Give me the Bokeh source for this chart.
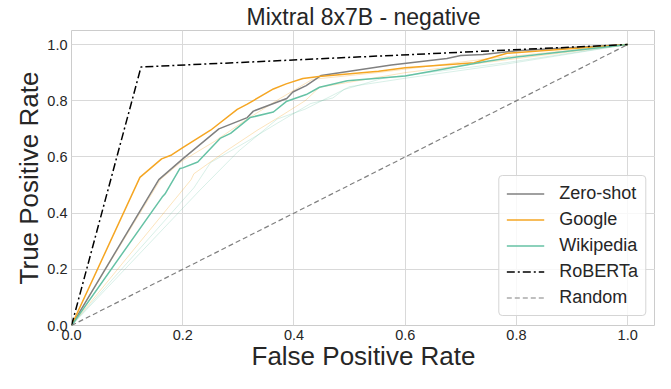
from bokeh.plotting import figure
from bokeh.models import Range1d, Legend, LegendItem, FixedTicker, NumeralTickFormatter
from bokeh.embed import file_html
from bokeh.resources import INLINE

# ---- data ----
zs_fpr = [0, 0.157, 0.2, 0.265, 0.316, 0.327, 0.387, 0.398, 0.422, 0.449, 0.575, 0.675, 0.70, 0.74, 0.80, 1.0]
zs_tpr = [0, 0.519, 0.593, 0.70, 0.74, 0.763, 0.808, 0.831, 0.854, 0.89, 0.927, 0.95, 0.961, 0.965, 0.978, 1.0]

go_fpr = [0, 0.123, 0.162, 0.18, 0.2, 0.25, 0.298, 0.316, 0.363, 0.386, 0.416, 0.445, 0.552, 0.60, 0.724, 0.783, 1.0]
go_tpr = [0, 0.527, 0.593, 0.607, 0.633, 0.695, 0.769, 0.788, 0.842, 0.86, 0.879, 0.886, 0.905, 0.917, 0.935, 0.969, 1.0]

wk_fpr = [0, 0.163, 0.168, 0.195, 0.2, 0.227, 0.268, 0.286, 0.321, 0.363, 0.386, 0.422, 0.446, 0.496, 0.60, 0.742, 0.80, 1.0]
wk_tpr = [0, 0.457, 0.468, 0.559, 0.561, 0.582, 0.667, 0.684, 0.74, 0.76, 0.797, 0.822, 0.848, 0.871, 0.888, 0.939, 0.956, 1.0]

go_faint1_fpr = [0, 0.16, 0.2, 0.257, 0.316, 0.375, 0.433, 0.55, 0.75, 1.0]
go_faint1_tpr = [0, 0.52, 0.587, 0.655, 0.735, 0.808, 0.876, 0.90, 0.95, 1.0]
go_faint2_fpr = [0, 0.215, 0.22, 0.274, 0.334, 0.38, 0.42, 0.446, 0.60, 0.80, 1.0]
go_faint2_tpr = [0, 0.519, 0.54, 0.616, 0.695, 0.75, 0.80, 0.848, 0.90, 0.95, 1.0]

wk_faint1_fpr = [0, 0.22, 0.25, 0.32, 0.37, 0.43, 0.47, 0.49, 0.56, 0.78, 1.0]
wk_faint1_tpr = [0, 0.49, 0.58, 0.66, 0.72, 0.79, 0.81, 0.84, 0.88, 0.935, 1.0]
wk_faint2_fpr = [0, 0.23, 0.30, 0.37, 0.42, 0.45, 0.50, 0.60, 0.78, 1.0]
wk_faint2_tpr = [0, 0.48, 0.62, 0.735, 0.77, 0.80, 0.85, 0.88, 0.93, 1.0]

rb_fpr = [0, 0.125, 1.0]
rb_tpr = [0, 0.92, 1.0]

rand_fpr = [0, 1.0]
rand_tpr = [0, 1.0]

ticks = [0.0, 0.2, 0.4, 0.6, 0.8, 1.0]
title_text = "Mixtral 8x7B - negative"
x_label = "False Positive Rate"
y_label = "True Positive Rate"

FONT = "Liberation Sans"
TXT = "#262626"

p = figure(width=655, height=373, output_backend="svg", toolbar_location=None,
           x_range=Range1d(0, 1.05), y_range=Range1d(0, 1.05),
           min_border_left=71, min_border_right=0, min_border_top=5, min_border_bottom=46)

p.title.text = title_text
p.title.align = "center"
p.title.text_font = FONT
p.title.text_font_size = "23px"
p.title.text_font_style = "normal"
p.title.text_color = TXT
p.title.standoff = 2

p.background_fill_color = "white"
p.border_fill_color = "white"
p.outline_line_color = "#cccccc"
p.outline_line_width = 1

for ax in (p.xaxis, p.yaxis):
    ax.ticker = FixedTicker(ticks=ticks)
    ax.formatter = NumeralTickFormatter(format="0.0")
    ax.axis_line_color = None
    ax.major_tick_line_color = None
    ax.minor_tick_line_color = None
    ax.major_tick_out = 0
    ax.major_tick_in = 0
    ax.minor_tick_out = 0
    ax.minor_tick_in = 0
    ax.major_label_text_font = FONT
    ax.major_label_text_font_size = "14.5px"
    ax.major_label_text_color = TXT
    ax.major_label_standoff = 4
    ax.axis_label_text_font = FONT
    ax.axis_label_text_font_size = "26px"
    ax.axis_label_text_font_style = "normal"
    ax.axis_label_text_color = TXT

p.xaxis.axis_label_standoff = -2
p.yaxis.axis_label_standoff = 0

p.xaxis.axis_label = x_label
p.yaxis.axis_label = y_label

p.xgrid.grid_line_color = "#d9d9d9"
p.ygrid.grid_line_color = "#d9d9d9"
p.xgrid.ticker = FixedTicker(ticks=ticks)
p.ygrid.ticker = FixedTicker(ticks=ticks)

ORANGE = "#f5a623"
GREEN = "#66c2a5"
GRAY = "#808080"

# faint variants
p.line(go_faint1_fpr, go_faint1_tpr, line_color=ORANGE, line_alpha=0.3, line_width=1)
p.line(go_faint2_fpr, go_faint2_tpr, line_color=ORANGE, line_alpha=0.3, line_width=1)
p.line(wk_faint1_fpr, wk_faint1_tpr, line_color=GREEN, line_alpha=0.25, line_width=1)
p.line(wk_faint2_fpr, wk_faint2_tpr, line_color=GREEN, line_alpha=0.25, line_width=1)

r_zs = p.line(zs_fpr, zs_tpr, line_color=GRAY, line_width=1.5)
r_go = p.line(go_fpr, go_tpr, line_color=ORANGE, line_width=1.5)
r_wk = p.line(wk_fpr, wk_tpr, line_color=GREEN, line_width=1.5)
r_rb = p.line(rb_fpr, rb_tpr, line_color="black", line_width=1.5, line_dash="8 3 2 3")
r_rand = p.line(rand_fpr, rand_tpr, line_color=GRAY, line_width=1.2, line_dash="5 3")

legend = Legend(items=[
    LegendItem(label="Zero-shot", renderers=[r_zs]),
    LegendItem(label="Google", renderers=[r_go]),
    LegendItem(label="Wikipedia", renderers=[r_wk]),
    LegendItem(label="RoBERTa", renderers=[r_rb]),
    LegendItem(label="Random", renderers=[r_rand]),
], location="bottom_right")
legend.label_text_font = FONT
legend.label_text_font_size = "18px"
legend.label_text_color = TXT
legend.glyph_width = 38
legend.glyph_height = 21
legend.label_height = 21
legend.spacing = 5
legend.padding = 7
legend.margin = 9
legend.label_standoff = 15
legend.border_line_color = "#d5d5d5"
legend.border_line_alpha = 1
legend.border_radius = 4
legend.background_fill_alpha = 0.8
p.add_layout(legend)

open("out.html", "w").write(file_html(p, INLINE))
